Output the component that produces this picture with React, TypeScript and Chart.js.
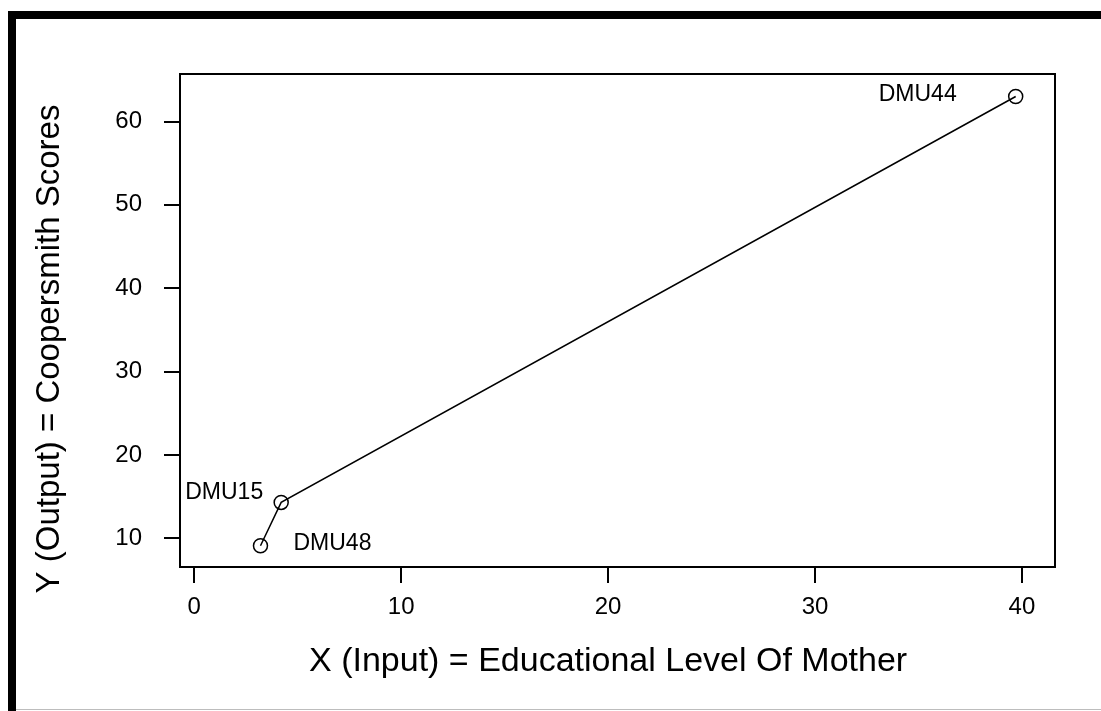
import { useEffect, useRef } from "react";
import { Chart, registerables } from "chart.js";

Chart.register(...registerables);

const dmuNames = ["DMU48", "DMU15", "DMU44"];
const inputX = [3.2, 4.2, 39.7];
const outputY = [9.1, 14.3, 63.0];
const xTicks = [0, 10, 20, 30, 40];
const yTicks = [10, 20, 30, 40, 50, 60];
const xRange = [-0.69, 41.6];
const yRange = [6.55, 65.7];
const xTitle = "X (Input) = Educational Level Of Mother";
const yTitle = "Y (Output) = Coopersmith Scores";

const FONT = "'Liberation Sans', Arial, sans-serif";

const framePlugin = {
  id: "frame",
  beforeDraw(chart: any) {
    const { ctx, width, height } = chart;
    ctx.save();
    ctx.fillStyle = "#ffffff";
    ctx.fillRect(0, 0, width, height);
    ctx.fillStyle = "#000000";
    ctx.fillRect(8, 11, width - 8, 8);
    ctx.fillRect(8, 11, 8, height - 11);
    ctx.fillStyle = "#bdbdbd";
    ctx.fillRect(16, 709, width - 16, 1);
    ctx.restore();
  },
  afterDraw(chart: any) {
    const { ctx, chartArea } = chart;
    ctx.save();
    ctx.strokeStyle = "#000";
    ctx.lineWidth = 2;
    ctx.strokeRect(chartArea.left, chartArea.top, chartArea.right - chartArea.left, chartArea.bottom - chartArea.top);
    // axis titles
    ctx.fillStyle = "#000";
    ctx.textAlign = "center";
    ctx.textBaseline = "middle";
    const xs = chart.scales.x;
    const xMid = (xs.getPixelForValue(xTicks[0]) + xs.getPixelForValue(xTicks[xTicks.length - 1])) / 2;
    ctx.font = `34px ${FONT}`;
    ctx.fillText(xTitle, xMid, 662);
    ctx.font = `33px ${FONT}`;
    ctx.translate(50, 349);
    ctx.rotate(-Math.PI / 2);
    ctx.fillText(yTitle, 0, 0);
    ctx.restore();
  },
};

const labelOffsets = [
  { align: "left", dx: 33, dy: -2 },
  { align: "right", dx: -18, dy: -10 },
  { align: "right", dx: -59, dy: -2 },
];

const labelPlugin = {
  id: "dmuLabels",
  afterDatasetsDraw(chart: any) {
    const { ctx } = chart;
    const meta = chart.getDatasetMeta(0);
    ctx.save();
    ctx.fillStyle = "#000";
    ctx.font = `23px ${FONT}`;
    ctx.textBaseline = "middle";
    meta.data.forEach((pt: any, i: number) => {
      const o = labelOffsets[i];
      ctx.textAlign = o.align;
      ctx.fillText(dmuNames[i], pt.x + o.dx, pt.y + o.dy);
    });
    ctx.restore();
  },
};

export default function App() {
  const ref = useRef<HTMLCanvasElement | null>(null);
  useEffect(() => {
    if (!ref.current) return;
    const chart = new Chart(ref.current, {
      type: "scatter",
      data: {
        datasets: [
          {
            data: inputX.map((x, i) => ({ x, y: outputY[i] })),
            showLine: true,
            borderColor: "#000",
            borderWidth: 1.5,
            pointRadius: 7,
            pointBorderWidth: 1.5,
            pointBorderColor: "#000",
            pointBackgroundColor: "rgba(0,0,0,0)",
            pointStyle: "circle",
          },
        ],
      },
      options: {
        responsive: false,
        animation: false,
        devicePixelRatio: 1,
        layout: { padding: { left: 20, top: 74, right: 46, bottom: 0 } },
        plugins: { legend: { display: false }, tooltip: { enabled: false } },
        scales: {
          x: {
            type: "linear",
            min: xRange[0],
            max: xRange[1],
            afterBuildTicks: (s: any) => {
              s.ticks = xTicks.map((v) => ({ value: v }));
            },
            afterFit: (s: any) => {
              s.height = 144;
            },
            border: { display: false },
            grid: { drawOnChartArea: false, drawTicks: true, tickLength: 16, color: "#000", lineWidth: 2 },
            ticks: { color: "#000", font: { family: FONT, size: 24 }, padding: 10, autoSkip: false, maxRotation: 0 },
            title: { display: false, text: xTitle },
          },
          y: {
            type: "linear",
            min: yRange[0],
            max: yRange[1],
            afterBuildTicks: (s: any) => {
              s.ticks = yTicks.map((v) => ({ value: v }));
            },
            afterFit: (s: any) => {
              s.width = 160;
            },
            border: { display: false },
            grid: { drawOnChartArea: false, drawTicks: true, tickLength: 16, color: "#000", lineWidth: 2 },
            ticks: { color: "#000", font: { family: FONT, size: 24 }, padding: 22, autoSkip: false },
            title: { display: false, text: yTitle },
          },
        },
      },
      plugins: [framePlugin, labelPlugin],
    } as any);
    return () => chart.destroy();
  }, []);
  return (
    <canvas
      ref={ref}
      width={1101}
      height={711}
      style={{ position: "absolute", left: 0, top: 0, display: "block" }}
    />
  );
}
